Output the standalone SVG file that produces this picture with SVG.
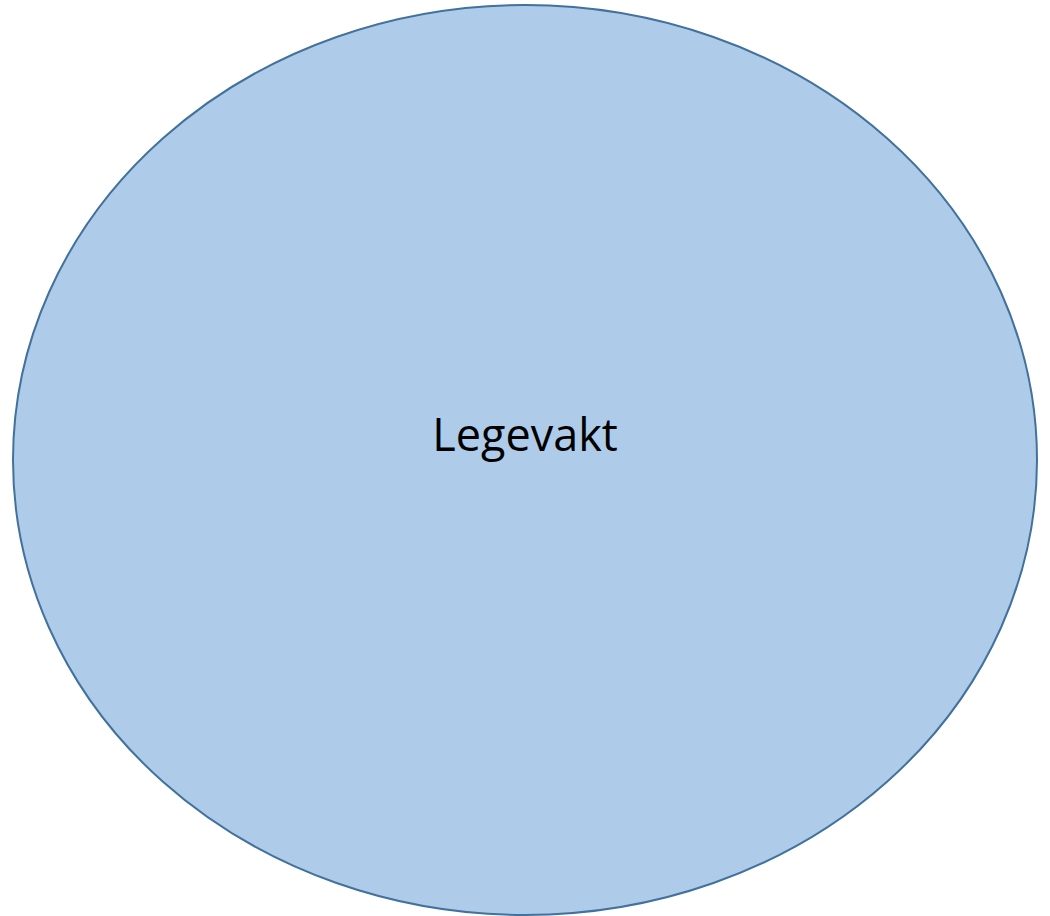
<svg xmlns="http://www.w3.org/2000/svg" width="1050" height="916" viewBox="0 0 1050 916">
<style>
.node{fill:#AECCEA;stroke:#41719C;stroke-width:2}
.label{font-family:"Open Sans","Liberation Sans",sans-serif;font-size:45px;fill:#000;text-anchor:middle}
</style>
<rect width="1050" height="916" fill="#fff"/>
<g id="connectors"></g>
<g id="legevakt">
<ellipse class="node" cx="525" cy="460" rx="512" ry="455"/>
<text class="label" x="525" y="451">Legevakt</text>
</g>
</svg>
